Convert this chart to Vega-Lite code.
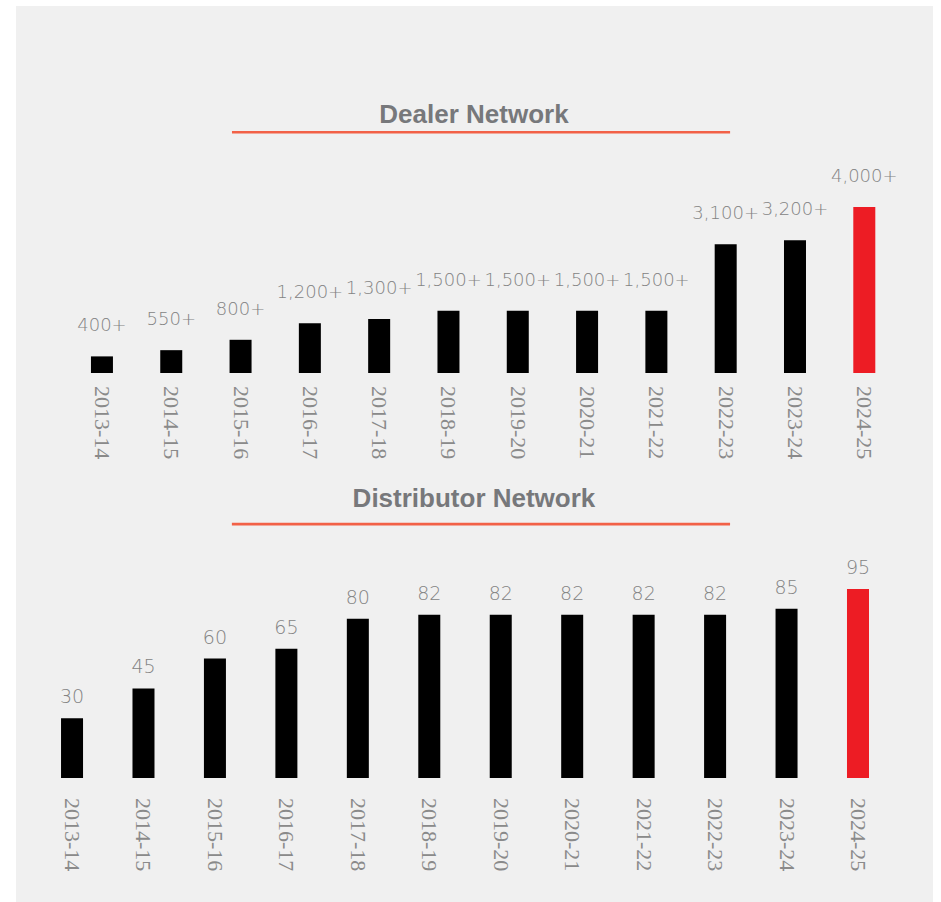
{
  "$schema": "https://vega.github.io/schema/vega-lite/v6.json",
  "width": 941,
  "height": 902,
  "autosize": {"type": "fit", "contains": "padding"},
  "padding": {"left": 16, "top": 6, "right": 8, "bottom": 0},
  "background": "white",
  "config": {"view": {"fill": "#f0f0f0", "stroke": null}},
  "datasets": {
    "dealer": [
      {"year": "2013-14", "value": 400, "label": "400+"},
      {"year": "2014-15", "value": 550, "label": "550+"},
      {"year": "2015-16", "value": 800, "label": "800+"},
      {"year": "2016-17", "value": 1200, "label": "1,200+"},
      {"year": "2017-18", "value": 1300, "label": "1,300+"},
      {"year": "2018-19", "value": 1500, "label": "1,500+"},
      {"year": "2019-20", "value": 1500, "label": "1,500+"},
      {"year": "2020-21", "value": 1500, "label": "1,500+"},
      {"year": "2021-22", "value": 1500, "label": "1,500+"},
      {"year": "2022-23", "value": 3100, "label": "3,100+"},
      {"year": "2023-24", "value": 3200, "label": "3,200+"},
      {"year": "2024-25", "value": 4000, "label": "4,000+"}
    ],
    "distributor": [
      {"year": "2013-14", "value": 30},
      {"year": "2014-15", "value": 45},
      {"year": "2015-16", "value": 60},
      {"year": "2016-17", "value": 65},
      {"year": "2017-18", "value": 80},
      {"year": "2018-19", "value": 82},
      {"year": "2019-20", "value": 82},
      {"year": "2020-21", "value": 82},
      {"year": "2021-22", "value": 82},
      {"year": "2022-23", "value": 82},
      {"year": "2023-24", "value": 85},
      {"year": "2024-25", "value": 95}
    ]
  },
  "layer": [
    {
      "layer": [
        {
          "data": {"name": "dealer"},
          "mark": {"type": "bar"},
          "encoding": {
            "x": {"field": "year", "type": "nominal", "sort": null, "axis": null,
                  "scale": {"paddingInner": 0.6825, "paddingOuter": 0.957, "align": 0.565, "round": false}},
            "y": {"field": "value", "type": "quantitative", "axis": null,
                  "scale": {"domain": [-12747, 8843], "nice": false, "zero": false}},
            "color": {"condition": {"test": "datum.year === '2024-25'", "value": "#ed1c24"}, "value": "#000000"}
          }
        },
        {
          "data": {"name": "dealer"},
          "mark": {"type": "text", "baseline": "alphabetic", "align": "center", "dy": -25,
                   "font": "DejaVu Sans", "fontWeight": 300, "fontSize": 18, "color": "#838383"},
          "encoding": {
            "x": {"field": "year", "type": "nominal", "sort": null, "axis": null},
            "y": {"field": "value", "type": "quantitative", "axis": null},
            "text": {"field": "label"}
          }
        },
        {
          "data": {"name": "dealer"},
          "mark": {"type": "text", "angle": 90, "align": "left", "baseline": "middle", "dx": 13,
                   "font": "Liberation Sans Narrow", "fontSize": 22, "color": "#8a8a8a"},
          "encoding": {
            "x": {"field": "year", "type": "nominal", "sort": null, "axis": null},
            "y": {"datum": 0, "type": "quantitative", "axis": null},
            "text": {"field": "year"}
          }
        },
        {
          "data": {"values": [{"title": "Dealer Network"}]},
          "mark": {"type": "text", "align": "center", "baseline": "alphabetic",
                   "font": "Liberation Sans", "fontWeight": "bold", "fontSize": 26, "color": "#77787b"},
          "encoding": {
            "x": {"datum": "2018-19", "bandPosition": 1.66, "type": "nominal", "axis": null},
            "y": {"datum": 6024, "type": "quantitative", "axis": null},
            "text": {"field": "title"}
          }
        },
        {
          "data": {"values": [{"title": "Dealer Network"}]},
          "mark": {"type": "rule", "color": "#f26147", "strokeWidth": 2.6},
          "encoding": {
            "x": {"datum": "2015-16", "bandPosition": 0.11, "type": "nominal", "axis": null},
            "x2": {"datum": "2022-23", "bandPosition": 0.7},
            "y": {"datum": 5800, "type": "quantitative", "axis": null}
          }
        }
      ]
    },
    {
      "layer": [
        {
          "data": {"name": "distributor"},
          "mark": {"type": "bar"},
          "encoding": {
            "x": {"field": "year", "type": "nominal", "sort": null, "axis": null,
                  "scale": {"paddingInner": 0.692, "paddingOuter": 0.763, "align": 0.413, "round": false}},
            "y": {"field": "value", "type": "quantitative", "axis": null,
                  "scale": {"domain": [-62.31, 387.94], "nice": false, "zero": false}},
            "color": {"condition": {"test": "datum.year === '2024-25'", "value": "#ed1c24"}, "value": "#000000"}
          }
        },
        {
          "data": {"name": "distributor"},
          "mark": {"type": "text", "baseline": "alphabetic", "align": "center", "dy": -15,
                   "font": "DejaVu Sans", "fontWeight": 300, "fontSize": 19, "color": "#838383"},
          "encoding": {
            "x": {"field": "year", "type": "nominal", "sort": null, "axis": null},
            "y": {"field": "value", "type": "quantitative", "axis": null},
            "text": {"field": "value", "type": "quantitative"}
          }
        },
        {
          "data": {"name": "distributor"},
          "mark": {"type": "text", "angle": 90, "align": "left", "baseline": "middle", "dx": 20,
                   "font": "Liberation Sans Narrow", "fontSize": 22, "color": "#8a8a8a"},
          "encoding": {
            "x": {"field": "year", "type": "nominal", "sort": null, "axis": null},
            "y": {"datum": 0, "type": "quantitative", "axis": null},
            "text": {"field": "year"}
          }
        },
        {
          "data": {"values": [{"title": "Distributor Network"}]},
          "mark": {"type": "text", "align": "center", "baseline": "alphabetic",
                   "font": "Liberation Sans", "fontWeight": "bold", "fontSize": 26, "color": "#77787b"},
          "encoding": {
            "x": {"datum": "2018-19", "bandPosition": 2.53, "type": "nominal", "axis": null},
            "y": {"datum": 136.2, "type": "quantitative", "axis": null},
            "text": {"field": "title"}
          }
        },
        {
          "data": {"values": [{"title": "Distributor Network"}]},
          "mark": {"type": "rule", "color": "#f26147", "strokeWidth": 2.6},
          "encoding": {
            "x": {"datum": "2015-16", "bandPosition": 1.27, "type": "nominal", "axis": null},
            "x2": {"datum": "2022-23", "bandPosition": 1.18},
            "y": {"datum": 127.6, "type": "quantitative", "axis": null}
          }
        }
      ]
    }
  ],
  "resolve": {"scale": {"x": "independent", "y": "independent"}}
}
